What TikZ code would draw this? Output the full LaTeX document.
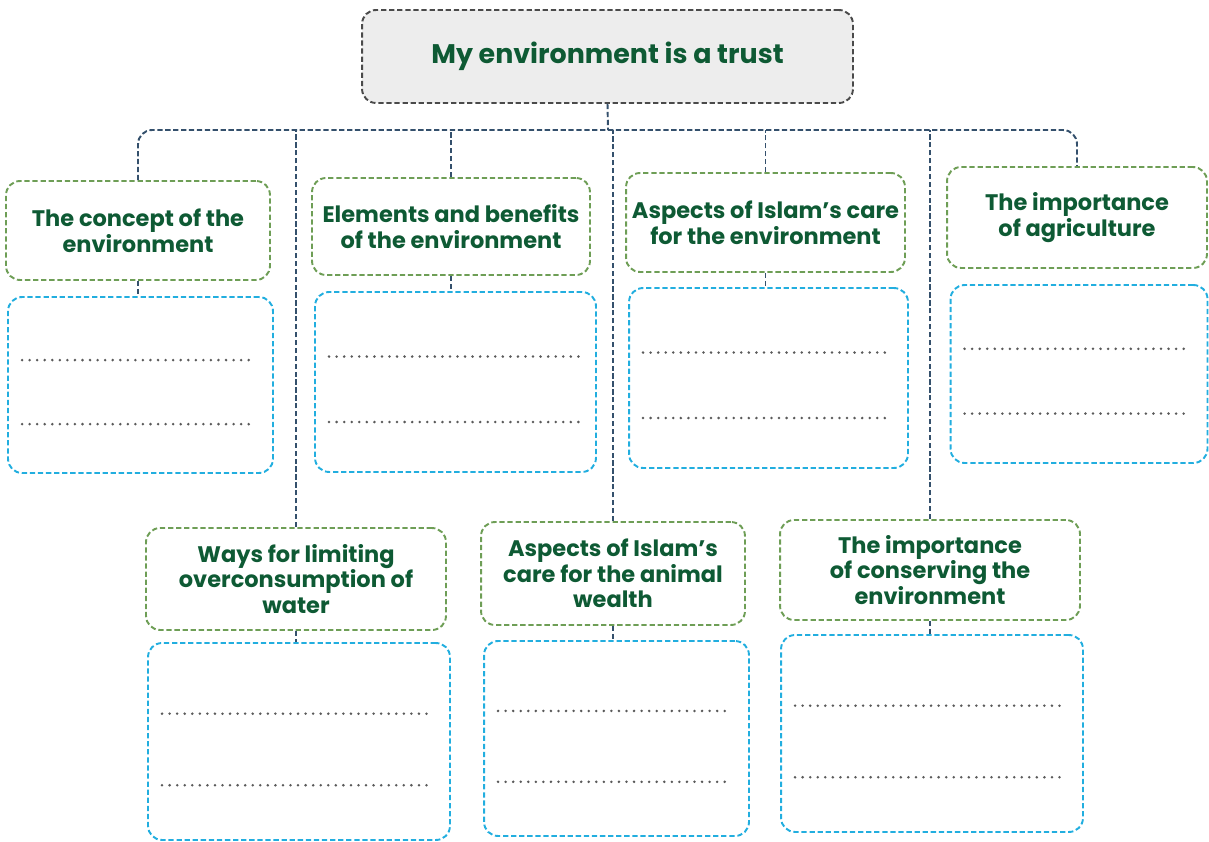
\documentclass[tikz,border=0pt]{standalone}
\usepackage{fontspec}
\setsansfont{Poppins}
\usepackage{tikz}
\usetikzlibrary{calc}

\definecolor{titlefill}{HTML}{EDEDED}
\definecolor{titleedge}{HTML}{4A4A4A}
\definecolor{topicedge}{HTML}{6E9E56}
\definecolor{answeredge}{HTML}{22AEDF}
\definecolor{linkblue}{HTML}{34506C}
\definecolor{textgreen}{HTML}{0E5A34}
\definecolor{dotgray}{HTML}{5A5A5A}

\begin{document}
\begin{tikzpicture}[x=0.02cm,y=-0.02cm,
  title/.style={draw=titleedge, fill=titlefill, line width=1.1pt, dash pattern=on 3pt off 1.6pt,
    rounded corners=8pt, text=textgreen, font=\sffamily\bfseries\fontsize{15.3}{18}\selectfont},
  topic/.style={draw=topicedge, line width=1.1pt, dash pattern=on 3pt off 1.6pt,
    rounded corners=8pt, align=center, text=textgreen, font=\sffamily\bfseries\fontsize{12.8}{14.6}\selectfont},
  answer/.style={draw=answeredge, line width=1.1pt, dash pattern=on 3pt off 1.6pt, rounded corners=8pt},
  link/.style={draw=linkblue, line width=1.1pt, dash pattern=on 3pt off 1.5pt},
  writeline/.style={draw=dotgray, line width=1.6pt, line cap=round, dash pattern=on 0pt off 4.3pt}]

  \useasboundingbox (0,0) rectangle (1209,841);

  \node[title, minimum width=9.82cm, minimum height=1.86cm] (trust) at (607.5,56.5) {My environment is a trust};

  \node[topic, minimum width=5.28cm, minimum height=1.98cm] (concept) at (138,230.5) {The concept of the\\environment};
  \node[topic, minimum width=5.56cm, minimum height=1.94cm] (elements) at (451,226.5) {Elements and benefits\\of the environment};
  \node[topic, minimum width=5.58cm, minimum height=1.98cm] (islamcare) at (765.5,222.5) {Aspects of Islam’s care\\for the environment};
  \node[topic, minimum width=5.2cm, minimum height=2.02cm] (agriculture) at (1077,217.5) {The importance\\of agriculture};

  \node[answer, minimum width=5.3cm, minimum height=3.52cm] (concept-ans) at (140.5,385) {};
  \node[answer, minimum width=5.62cm, minimum height=3.6cm] (elements-ans) at (455.5,382) {};
  \node[answer, minimum width=5.58cm, minimum height=3.6cm] (islamcare-ans) at (768.5,378) {};
  \node[answer, minimum width=5.14cm, minimum height=3.56cm] (agriculture-ans) at (1079,374) {};

  \node[topic, minimum width=6cm, minimum height=2.04cm] (water) at (296,579) {Ways for limiting\\overconsumption of\\water};
  \node[topic, minimum width=5.28cm, minimum height=2.06cm] (animals) at (613,573.5) {Aspects of Islam’s\\care for the animal\\wealth};
  \node[topic, minimum width=6cm, minimum height=2cm] (conserving) at (930,570) {The importance\\of conserving the\\environment};

  \node[answer, minimum width=6.04cm, minimum height=3.94cm] (water-ans) at (299,741.5) {};
  \node[answer, minimum width=5.3cm, minimum height=3.9cm] (animals-ans) at (616.5,738.5) {};
  \node[answer, minimum width=6.04cm, minimum height=3.94cm] (conserving-ans) at (932,733.5) {};

  \coordinate (bus) at (608,130);
  \draw[link] (trust.south) -- (bus);
  \draw[link, rounded corners=8pt] (concept.north) |- (bus) -| (agriculture.north);
  \draw[link] (elements.north) -- (elements.north |- bus);
  \draw[link] (islamcare.north) -- (islamcare.north |- bus);
  \draw[link] (water.north) -- (water.north |- bus);
  \draw[link] (animals.north) -- (animals.north |- bus);
  \draw[link] (conserving.north) -- (conserving.north |- bus);

  \foreach \n in {concept,elements,islamcare,water,animals,conserving}
    \draw[link] (\n.south) -- (\n.south |- \n-ans.north);

  \foreach \n in {concept,elements,islamcare,agriculture,water,animals,conserving}
    \foreach \f in {0.36,0.72}
      \draw[writeline] ($(\n-ans.north west)!\f!(\n-ans.south west)+(15,0)$)
        -- ($(\n-ans.north east)!\f!(\n-ans.south east)+(-18,0)$);
\end{tikzpicture}
\end{document}
